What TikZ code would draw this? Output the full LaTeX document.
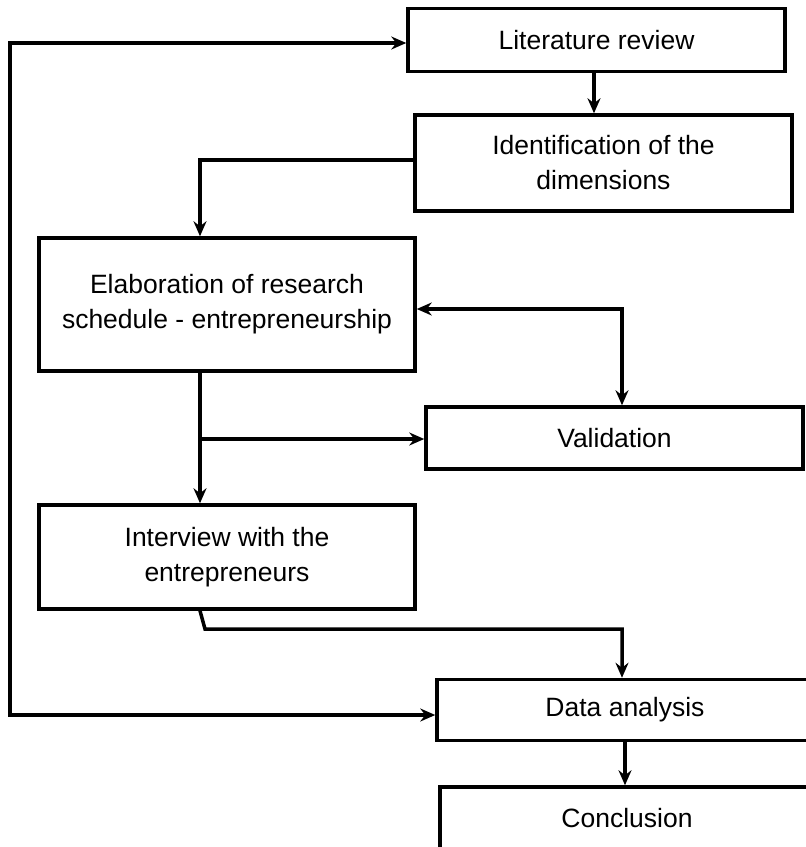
\documentclass[tikz,border=0pt]{standalone}
\usepackage{fontspec}
\setmainfont{Liberation Sans}
\usetikzlibrary{arrows.meta,calc}
\begin{document}
\begin{tikzpicture}[x=1pt,y=-1pt,
  box/.style={draw,line width=3.5pt,rectangle,inner sep=0pt,align=center,
    font=\fontsize{26.5}{35}\selectfont},
  conn/.style={line width=3.5pt},
  arr/.style={conn,-{Stealth[length=15pt,width=13pt,inset=5pt]}},
  darr/.style={conn,{Stealth[length=15pt,width=13pt,inset=5pt]}-{Stealth[length=15pt,width=13pt,inset=5pt]}}]
\useasboundingbox (0,0) rectangle (806,847);
\clip (0,0) rectangle (806,847);
\node[box,minimum width=377pt,minimum height=63pt] (lit) at (596.5,40) {Literature review};
\node[box,minimum width=377pt,minimum height=96pt] (ident) at (603.5,163) {Identification of the\\dimensions};
\node[box,minimum width=376pt,minimum height=133pt] (elab) at (227,304.5) {Elaboration of research\\schedule - entrepreneurship};
\node[box,minimum width=377pt,minimum height=62pt] (valid) at (614.5,438) {Validation};
\node[box,minimum width=376pt,minimum height=104pt] (interv) at (227,557) {Interview with the\\entrepreneurs};
\node[box,minimum width=376pt,minimum height=61pt] (data) at (625,710) {Data analysis};
\node[box,minimum width=374pt,minimum height=62pt] (concl) at (627,818) {Conclusion};
\coordinate (tl) at (10,43);
\coordinate (bl) at (10,715);
\coordinate (c1) at (200,160);
\coordinate (c2) at (622,309);
\coordinate (c3) at (200,439);
\coordinate (c4) at (205,629);
\coordinate (c5) at (622,629);
\draw[darr] (tl -| lit.west) -- (tl) -- (bl) -- (bl -| data.west);
\draw[arr] ($(lit.south)+(-2.5,0)$) -- ($(lit.south|-ident.north)+(-2.5,0)$);
\draw[arr] (c1 -| ident.west) -- (c1) -- (c1 |- elab.north);
\draw[darr] (c2 -| elab.east) -- (c2) -- (c2 |- valid.north);
\draw[arr] (c3 |- elab.south) -- (c3 |- interv.north);
\draw[arr] (c3) -- (c3 -| valid.west);
\draw[arr] (c3 |- interv.south) -- (c4) -- (c5) -- (c5 |- data.north);
\draw[arr] (data.south) -- (data.south |- concl.north);
\end{tikzpicture}
\end{document}
